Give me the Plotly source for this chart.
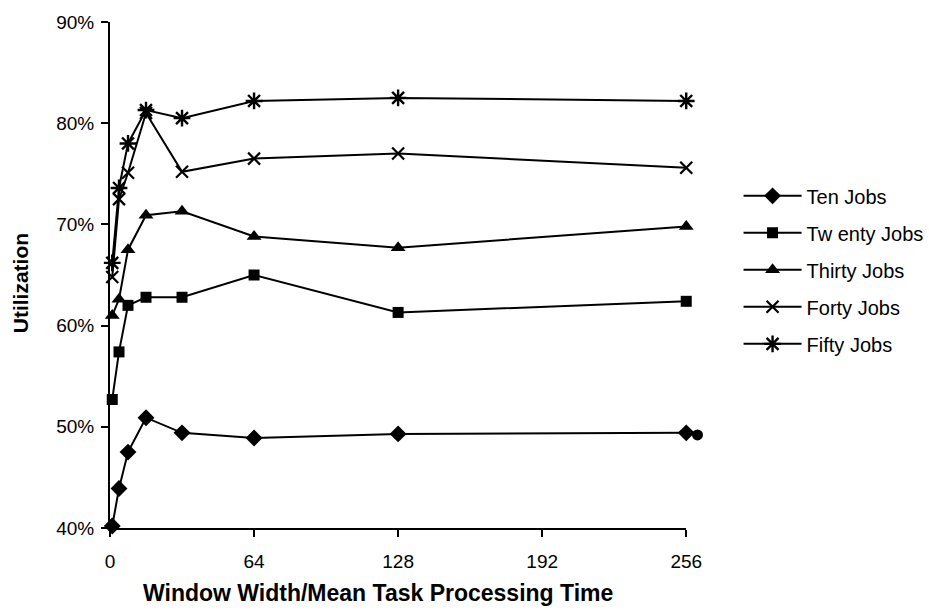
import plotly.graph_objects as go

# Window width / mean task processing time
window = [1, 4, 8, 16, 32, 64, 128, 256]

# Utilization (%) for each workload size
ten_jobs = [40.2, 43.9, 47.5, 50.9, 49.4, 48.9, 49.3, 49.4]
twenty_jobs = [52.7, 57.4, 62.0, 62.8, 62.8, 65.0, 61.3, 62.4]
thirty_jobs = [61.0, 62.6, 67.5, 70.9, 71.3, 68.8, 67.7, 69.8]
forty_jobs = [64.8, 72.5, 75.1, 81.0, 75.2, 76.5, 77.0, 75.6]
fifty_jobs = [66.2, 73.6, 78.0, 81.3, 80.5, 82.2, 82.5, 82.2]

# stray point beside the last Ten Jobs marker
extra_x = [261]
extra_y = [49.2]

series_names = ["Ten Jobs", "Tw enty Jobs", "Thirty Jobs", "Forty Jobs", "Fifty Jobs"]
series_values = [ten_jobs, twenty_jobs, thirty_jobs, forty_jobs, fifty_jobs]
x_ticks = [0, 64, 128, 192, 256]
y_ticks = [40, 50, 60, 70, 80, 90]

marker_styles = [
    dict(symbol="diamond", size=13, color="black"),
    dict(symbol="square", size=11, color="black"),
    dict(symbol="triangle-up", size=13, color="black"),
    dict(symbol="x-thin-open", size=12, color="black", line=dict(width=2.2, color="black")),
    dict(symbol="asterisk-open", size=14, color="black", line=dict(width=2.4, color="black")),
]

FONT = "Liberation Sans, Arial, sans-serif"

# main x axis spans part of the plot width; a hidden free axis covers the full width
X_MAX = 256
X_DOMAIN_END = 0.975
X2_MAX = X_MAX / X_DOMAIN_END

fig = go.Figure()
for i, (name, vals, mk) in enumerate(zip(series_names, series_values, marker_styles)):
    fig.add_trace(go.Scatter(
        x=window, y=vals, name=name, mode="lines+markers",
        line=dict(color="black", width=2),
        marker=mk, cliponaxis=False, legendgroup=f"g{i}",
    ))

fig.add_trace(go.Scatter(
    x=extra_x, y=extra_y, mode="markers", showlegend=False, xaxis="x2", yaxis="y",
    marker=dict(symbol="circle", size=11, color="black"), cliponaxis=False,
))

fig.update_layout(
    width=929, height=611,
    margin=dict(l=110, r=228, t=16, b=83),
    paper_bgcolor="white", plot_bgcolor="rgba(0,0,0,0)",
    font=dict(family=FONT, color="black", size=18),
    showlegend=True,
    legend=dict(
        xref="container", x=0.795, xanchor="left", y=0.695, yanchor="top",
        font=dict(family=FONT, size=20, color="black"),
        tracegroupgap=8, itemwidth=58, bgcolor="rgba(0,0,0,0)",
    ),
    xaxis=dict(
        domain=[0, X_DOMAIN_END],
        range=[0, X_MAX], tickvals=x_ticks, ticktext=[str(t) for t in x_ticks],
        showgrid=False, zeroline=False, showline=True, linecolor="black", linewidth=2,
        ticks="outside", ticklen=7, tickwidth=2, tickcolor="black",
        tickfont=dict(family=FONT, size=19), ticklabelstandoff=8,
    ),
    xaxis2=dict(
        domain=[0, 1], range=[0, X2_MAX], anchor="y",
        visible=False, showgrid=False, zeroline=False,
    ),
    yaxis=dict(
        range=[40, 90], tickvals=y_ticks, ticktext=[f"{t}%" for t in y_ticks],
        showgrid=False, zeroline=False, showline=True, linecolor="black", linewidth=2,
        ticks="outside", ticklen=7, tickwidth=2, tickcolor="black",
        tickfont=dict(family=FONT, size=19), ticklabelstandoff=3,
    ),
    annotations=[
        dict(text="<b>Window Width/Mean Task Processing Time</b>",
             xref="paper", yref="paper", x=0.4535, y=-0.129,
             xanchor="center", yanchor="middle", showarrow=False,
             font=dict(family=FONT, size=23, color="black")),
        dict(text="<b>Utilization</b>", textangle=-90,
             xref="paper", yref="paper", x=-0.152, y=0.484,
             xanchor="center", yanchor="middle", showarrow=False,
             font=dict(family=FONT, size=21, color="black")),
    ],
)

fig.write_html("out.html")
